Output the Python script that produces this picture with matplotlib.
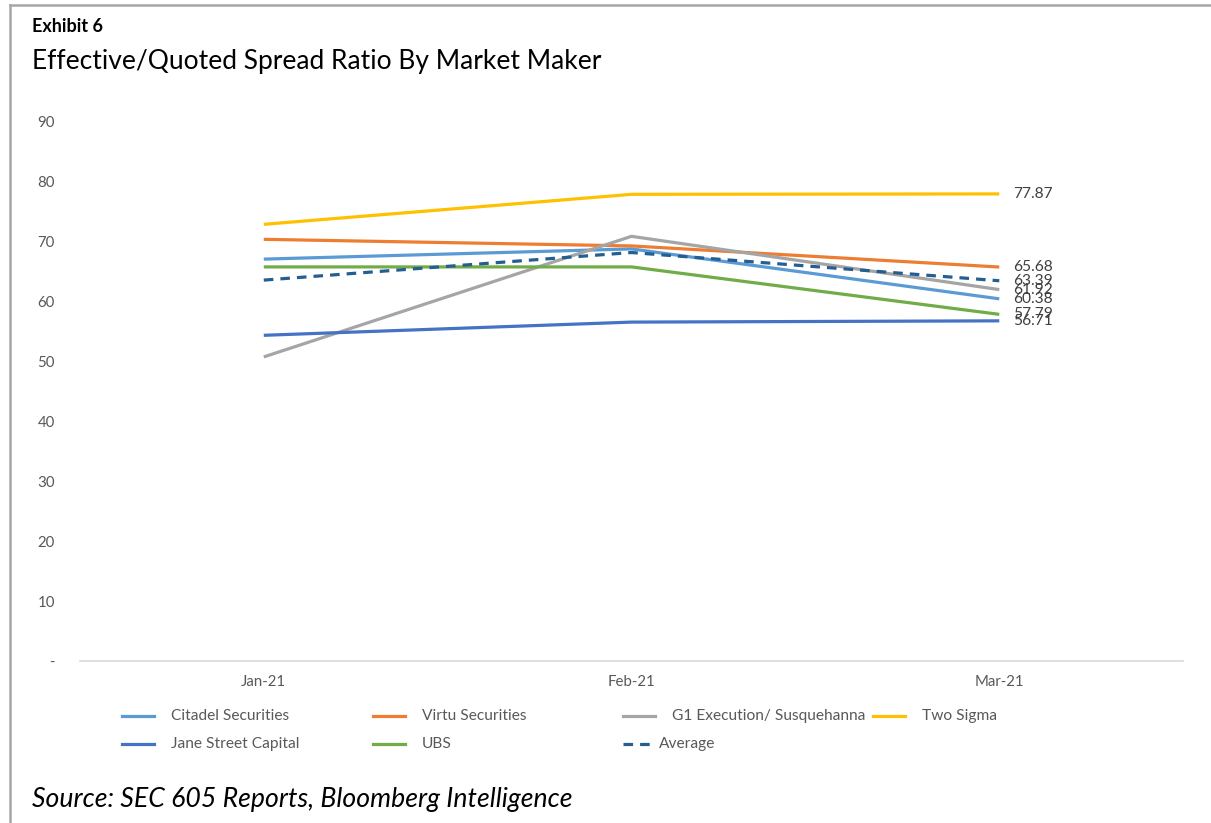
import matplotlib
matplotlib.use("Agg")
import matplotlib.pyplot as plt
from matplotlib.lines import Line2D
from matplotlib.ticker import FuncFormatter

# ---- data ----
MONTHS = ["Jan-21", "Feb-21", "Mar-21"]
SERIES = ["Citadel Securities", "Virtu Securities", "G1 Execution/ Susquehanna",
          "Two Sigma", "Jane Street Capital", "UBS", "Average"]
CITADEL = [67.0, 68.7, 60.38]
VIRTU = [70.3, 69.2, 65.68]
G1 = [50.7, 70.8, 61.92]
TWO_SIGMA = [72.8, 77.8, 77.87]
JANE_STREET = [54.3, 56.5, 56.71]
UBS = [65.7, 65.7, 57.79]
AVERAGE = [63.5, 68.1, 63.39]

COLORS = ["#5B9BD5", "#ED7D31", "#A5A5A5", "#FFC000", "#4472C4", "#70AD47", "#255E91"]
FONT = ["Lato", "DejaVu Sans"]
plt.rcParams["font.family"] = FONT

fig = plt.figure(figsize=(12.11, 8.23), dpi=100)
ax = fig.add_axes([0.066, 0.1968, 0.911, 0.656])

values = [CITADEL, VIRTU, G1, TWO_SIGMA, JANE_STREET, UBS, AVERAGE]
x = range(len(MONTHS))
for name, vals, col in zip(SERIES, values, COLORS):
    ls = (0, (3, 2.2)) if name == "Average" else "-"
    ax.plot(x, vals, color=col, lw=2.3, ls=ls, solid_capstyle="butt")
    ax.annotate(f"{vals[-1]:.2f}", xy=(x[-1], vals[-1]), xytext=(10, 0),
                textcoords="offset points", va="center", ha="left",
                fontsize=11.2, color="#404040")

ax.set_xlim(-0.5, 2.5)
ax.set_ylim(0, 90)
ax.set_yticks(range(0, 91, 10))
ax.yaxis.set_major_formatter(FuncFormatter(lambda v, _: "-" if v == 0 else f"{int(v)}"))
ax.set_xticks(list(x))
ax.set_xticklabels(MONTHS)
ax.tick_params(length=0, labelsize=10.8, labelcolor="#595959")
ax.tick_params(axis="y", pad=18)
ax.tick_params(axis="x", pad=10)
for s in ["top", "right", "left"]:
    ax.spines[s].set_visible(False)
ax.spines["bottom"].set_color("#D9D9D9")
ax.spines["bottom"].set_linewidth(1.2)

# ---- legend (Excel style, equal column widths) ----
W, H = 1211, 823
col_x = [122, 373, 623, 873]
row_y = [716, 744]
for i, (name, col) in enumerate(zip(SERIES, COLORS)):
    cx = col_x[i % 4]
    cy = 1 - row_y[i // 4] / H
    is_avg = name == "Average"
    ls = (0, (3, 2.2)) if is_avg else "-"
    fig.add_artist(Line2D([cx / W, (cx + (27 if is_avg else 32)) / W], [cy, cy],
                          color=col, lw=2.3, ls=ls, transform=fig.transFigure))
    tx = cx + (36 if is_avg else 49)
    fig.text(tx / W, cy, name, ha="left", va="center", fontsize=11.2, color="#595959")

# ---- titles and frame ----
fig.text(32 / W, 1 - 27 / H, "Exhibit 6", fontsize=13, fontweight="bold", va="center")
fig.text(32 / W, 1 - 62 / H, "Effective/Quoted Spread Ratio By Market Maker",
         fontsize=19, va="center")
fig.text(32 / W, 1 - 800 / H, "Source: SEC 605 Reports, Bloomberg Intelligence",
         fontsize=19.2, style="italic", va="center")
fig.add_artist(Line2D([10 / W, 1], [1 - 5 / H, 1 - 5 / H], color="#A6A6A6", lw=1.8,
                      transform=fig.transFigure))
fig.add_artist(Line2D([10 / W, 10 / W], [0, 1 - 5 / H], color="#A6A6A6", lw=1.8,
                      transform=fig.transFigure))

fig.savefig("out.png", dpi=100)
